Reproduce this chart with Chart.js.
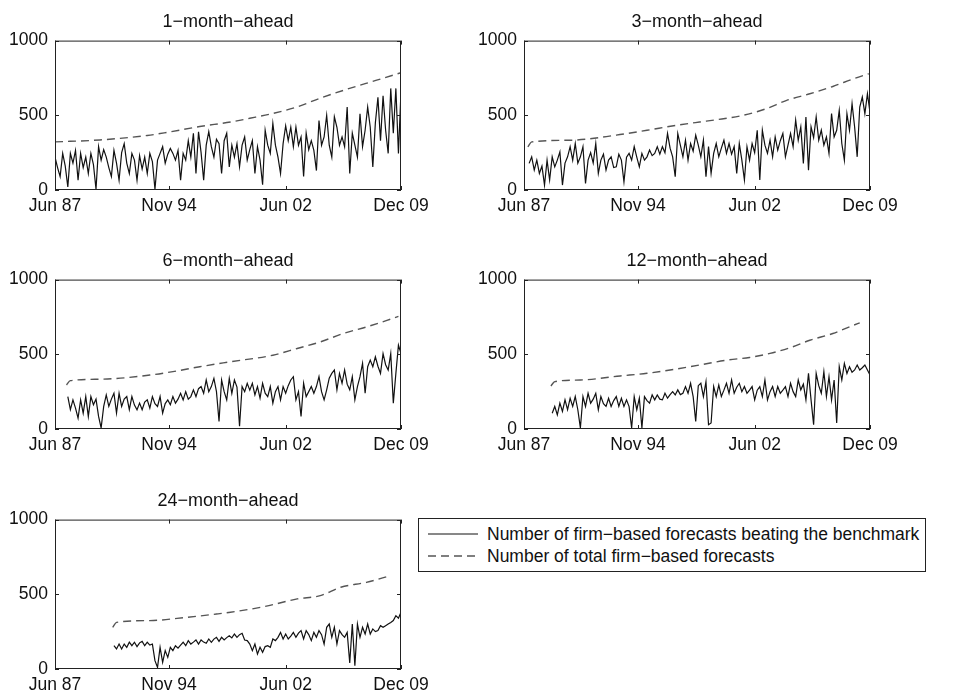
<!DOCTYPE html>
<html>
<head>
<meta charset="utf-8">
<script src="https://cdn.jsdelivr.net/npm/chart.js@4.4.1/dist/chart.umd.min.js"></script>
<style>
  body { margin: 0; background: #fff; overflow: hidden; }
  #page { position: relative; width: 954px; height: 693px; }
  #page canvas { position: absolute; }
  #legend {
    position: absolute; left: 418px; top: 518px; width: 508px; height: 54px;
    border: 1px solid #222; box-sizing: border-box; background: #fff;
    font: 17.5px 'Liberation Sans', Arial, Helvetica, sans-serif; color: #111;
  }
  #legend .row { position: absolute; left: 0; height: 22px; display: flex; align-items: center; white-space: nowrap; }
  #legend svg { margin: 0 9px; }
</style>
</head>
<body>
<div id="page">
  <canvas id="c1" width="440" height="220" style="left:0;top:0"></canvas>
  <canvas id="c2" width="440" height="220" style="left:469px;top:0"></canvas>
  <canvas id="c3" width="440" height="220" style="left:0;top:239px"></canvas>
  <canvas id="c4" width="440" height="220" style="left:469px;top:239px"></canvas>
  <canvas id="c5" width="440" height="220" style="left:0;top:479px"></canvas>
  <div id="legend">
    <div class="row" style="top:4px">
      <svg width="50" height="10"><line x1="0" y1="5" x2="50" y2="5" stroke="#111" stroke-width="1"/></svg>
      <span>Number of firm−based forecasts beating the benchmark</span>
    </div>
    <div class="row" style="top:26px">
      <svg width="50" height="10"><line x1="0" y1="5" x2="50" y2="5" stroke="#555" stroke-width="1.4" stroke-dasharray="8 5"/></svg>
      <span>Number of total firm−based forecasts</span>
    </div>
  </div>
</div>
<script>
// months since Jun 87 (0 = Jun 87, 270 = Dec 09)
const tickMonths = [0, 89, 180, 270];
const tickLabels = ['Jun 87', 'Nov 94', 'Jun 02', 'Dec 09'];
const titles = ['1−month−ahead', '3−month−ahead', '6−month−ahead', '12−month−ahead', '24−month−ahead'];
const STEP = 2; // beating series read every 2 months

// number of firm-based forecasts beating the benchmark
const beat1Start = 0;
const beat1 = [220, 150, 90, 245, 160, 20, 245, 180, 265, 65,
  245, 150, 220, 110, 245, 170, 5, 290, 200, 270,
  220, 150, 90, 265, 180, 65, 250, 310, 180, 110,
  245, 200, 65, 230, 140, 220, 110, 245, 190, 5,
  200, 245, 290, 180, 240, 278, 245, 200, 265, 65,
  245, 200, 330, 220, 380, 110, 390, 250, 65, 300,
  390, 290, 220, 340, 310, 110, 330, 380, 155, 300,
  220, 310, 155, 300, 355, 200, 270, 330, 110, 290,
  200, 35, 400, 300, 245, 445, 300, 220, 110, 310,
  430, 330, 420, 290, 420, 300, 355, 90, 380, 270,
  330, 265, 130, 465, 300, 355, 500, 300, 220, 490,
  420, 300, 355, 290, 555, 110, 380, 300, 220, 510,
  290, 400, 555, 420, 155, 450, 620, 330, 630, 400,
  245, 680, 380, 680, 245, 660];

const beat2Start = 4;
const beat2 = [178, 222, 133, 200, 111, 160, 33, 200, 67, 222,
  155, 200, 255, 33, 180, 222, 290, 200, 311, 180,
  222, 290, 44, 200, 250, 180, 311, 111, 200, 240,
  133, 200, 222, 150, 155, 240, 200, 55, 220, 245,
  200, 290, 220, 155, 245, 200, 222, 267, 230, 245,
  290, 240, 290, 250, 378, 280, 222, 89, 378, 300,
  222, 333, 200, 311, 260, 367, 300, 222, 333, 89,
  290, 111, 245, 311, 222, 280, 333, 245, 311, 240,
  290, 111, 311, 200, 67, 290, 200, 311, 250, 400,
  67, 400, 300, 245, 333, 222, 355, 267, 330, 378,
  222, 300, 378, 290, 467, 333, 422, 178, 489, 133,
  422, 350, 489, 333, 400, 300, 355, 245, 511, 355,
  400, 533, 311, 200, 511, 400, 578, 422, 222, 555,
  622, 511, 644, 520];

const beat3Start = 10;
const beat3 = [217, 130, 195, 140, 73, 195, 106, 217, 84, 217,
  162, 200, 84, 7, 151, 228, 151, 200, 239, 106,
  239, 151, 200, 217, 129, 217, 160, 129, 173, 129,
  180, 195, 140, 217, 170, 151, 217, 106, 170, 195,
  162, 217, 173, 200, 239, 195, 250, 200, 217, 262,
  217, 270, 284, 239, 328, 250, 284, 339, 250, 51,
  328, 250, 195, 339, 239, 328, 280, 18, 284, 250,
  306, 260, 306, 228, 284, 206, 306, 240, 217, 284,
  173, 250, 284, 195, 284, 239, 290, 328, 350, 195,
  250, 84, 306, 217, 250, 284, 239, 284, 350, 250,
  195, 262, 340, 372, 395, 262, 372, 306, 395, 300,
  262, 350, 195, 284, 350, 439, 239, 417, 461, 417,
  483, 420, 372, 505, 430, 395, 505, 173, 372, 561,
  505];

const beat4Start = 22;
const beat4 = [106, 151, 95, 173, 118, 195, 129, 206, 151, 217,
  129, 7, 217, 151, 239, 173, 200, 239, 129, 217,
  170, 151, 206, 151, 190, 217, 151, 206, 151, 195,
  150, 7, 217, 129, 206, 7, 217, 190, 173, 228,
  195, 228, 200, 195, 239, 206, 230, 250, 228, 262,
  230, 239, 284, 239, 306, 217, 51, 290, 306, 217,
  317, 29, 40, 284, 217, 295, 217, 260, 306, 239,
  328, 239, 280, 306, 250, 284, 239, 260, 284, 195,
  260, 284, 217, 328, 195, 250, 284, 217, 284, 239,
  260, 284, 217, 306, 250, 217, 328, 262, 300, 195,
  372, 195, 29, 372, 290, 239, 383, 217, 350, 195,
  328, 40, 417, 328, 439, 372, 417, 380, 395, 428,
  395, 410, 428, 395, 361];

const beat5Start = 46;
const beat5 = [156, 134, 167, 134, 167, 145, 179, 156, 179, 150,
  175, 185, 156, 179, 160, 167, 56, 11, 145, 45,
  123, 78, 145, 123, 156, 140, 160, 179, 156, 190,
  167, 180, 194, 167, 194, 180, 172, 201, 179, 200,
  212, 185, 212, 194, 210, 223, 208, 234, 212, 230,
  239, 194, 190, 167, 123, 167, 100, 145, 112, 150,
  156, 145, 201, 190, 212, 245, 201, 234, 201, 220,
  245, 212, 240, 257, 201, 257, 230, 190, 245, 212,
  257, 230, 167, 279, 301, 212, 279, 167, 257, 230,
  212, 245, 40, 301, 22, 301, 212, 279, 234, 301,
  234, 268, 250, 257, 290, 279, 290, 301, 312, 324,
  357, 340, 380];

// number of total firm-based forecasts (month, value)
const total1Months = [0, 35, 72, 87, 113, 137, 152, 170, 189, 207, 228, 251, 270];
const total1 = [322, 335, 365, 385, 425, 455, 480, 512, 556, 615, 675, 735, 785];
const total2Months = [3, 6, 36, 72, 96, 119, 137, 150, 171, 189, 205, 223, 241, 257, 269];
const total2 = [289, 322, 333, 367, 400, 433, 455, 470, 500, 544, 600, 644, 693, 744, 778];
const total3Months = [9, 12, 35, 74, 92, 113, 137, 170, 189, 207, 225, 243, 259, 268];
const total3 = [295, 324, 333, 361, 384, 417, 450, 494, 539, 583, 639, 683, 727, 754];
const total4Months = [21, 24, 44, 75, 96, 114, 137, 158, 176, 192, 208, 223, 241, 257, 262];
const total4 = [288, 317, 328, 355, 373, 395, 428, 461, 479, 506, 545, 594, 639, 694, 710];
const total5Months = [45, 48, 74, 103, 126, 137, 163, 189, 207, 223, 243, 262];
const total5 = [279, 312, 324, 346, 368, 380, 417, 469, 491, 547, 580, 625];

const panels = [
  { id: 'c1', start: beat1Start, beat: beat1, totalX: total1Months, total: total1 },
  { id: 'c2', start: beat2Start, beat: beat2, totalX: total2Months, total: total2 },
  { id: 'c3', start: beat3Start, beat: beat3, totalX: total3Months, total: total3 },
  { id: 'c4', start: beat4Start, beat: beat4, totalX: total4Months, total: total4 },
  { id: 'c5', start: beat5Start, beat: beat5, totalX: total5Months, total: total5 }
];

const FONT = { family: "'Liberation Sans', Arial, Helvetica, sans-serif", size: 17.5 };
const INK = '#111';

// matlab style box with inward ticks
const frame = {
  id: 'frame',
  afterDraw(chart) {
    const { ctx, chartArea: a, scales } = chart;
    const L = 4;
    ctx.save();
    ctx.strokeStyle = '#222';
    ctx.lineWidth = 1;
    ctx.strokeRect(a.left + 0.5, a.top + 0.5, a.right - a.left - 1, a.bottom - a.top - 1);
    ctx.beginPath();
    tickMonths.forEach(m => {
      const px = Math.round(scales.x.getPixelForValue(m)) + 0.5;
      ctx.moveTo(px, a.bottom); ctx.lineTo(px, a.bottom - L);
      ctx.moveTo(px, a.top); ctx.lineTo(px, a.top + L);
    });
    scales.y.ticks.forEach(t => {
      const py = Math.round(scales.y.getPixelForValue(t.value)) + 0.5;
      ctx.moveTo(a.left, py); ctx.lineTo(a.left + L, py);
      ctx.moveTo(a.right, py); ctx.lineTo(a.right - L, py);
    });
    ctx.stroke();
    ctx.restore();
  }
};

panels.forEach((p, k) => {
  const beatPts = p.beat.map((v, i) => ({ x: p.start + STEP * i, y: v }));
  const totalPts = p.total.map((v, i) => ({ x: p.totalX[i], y: v }));
  new Chart(document.getElementById(p.id), {
    type: 'line',
    data: {
      datasets: [
        { label: 'Number of firm-based forecasts beating the benchmark', data: beatPts,
          borderColor: INK, borderWidth: 1.2, pointRadius: 0, tension: 0 },
        { label: 'Number of total firm-based forecasts', data: totalPts,
          borderColor: '#555', borderWidth: 1.4, borderDash: [8, 5], pointRadius: 0,
          cubicInterpolationMode: 'monotone' }
      ]
    },
    options: {
      responsive: false,
      animation: false,
      layout: { padding: { right: 39 } },
      plugins: {
        legend: { display: false },
        tooltip: { enabled: false },
        title: { display: true, fullSize: false, text: titles[k], color: INK,
                 font: { ...FONT, size: 18, weight: 'normal' },
                 padding: { top: 11, bottom: 8 } }
      },
      scales: {
        x: {
          type: 'linear', min: 0, max: 270,
          afterBuildTicks: axis => { axis.ticks = tickMonths.map(v => ({ value: v })); },
          afterFit: s => { s.height = 30; },
          grid: { display: false, drawTicks: false },
          border: { display: false },
          ticks: { autoSkip: false, maxRotation: 0, padding: 6, color: INK, font: FONT,
                   callback: v => tickLabels[tickMonths.indexOf(v)] }
        },
        y: {
          min: 0, max: 1000,
          afterFit: s => { s.width = 55; },
          grid: { display: false, drawTicks: false },
          border: { display: false },
          ticks: { stepSize: 500, padding: 7, color: INK, font: FONT, callback: v => String(v) }
        }
      }
    },
    plugins: [frame]
  });
});
</script>
</body>
</html>
